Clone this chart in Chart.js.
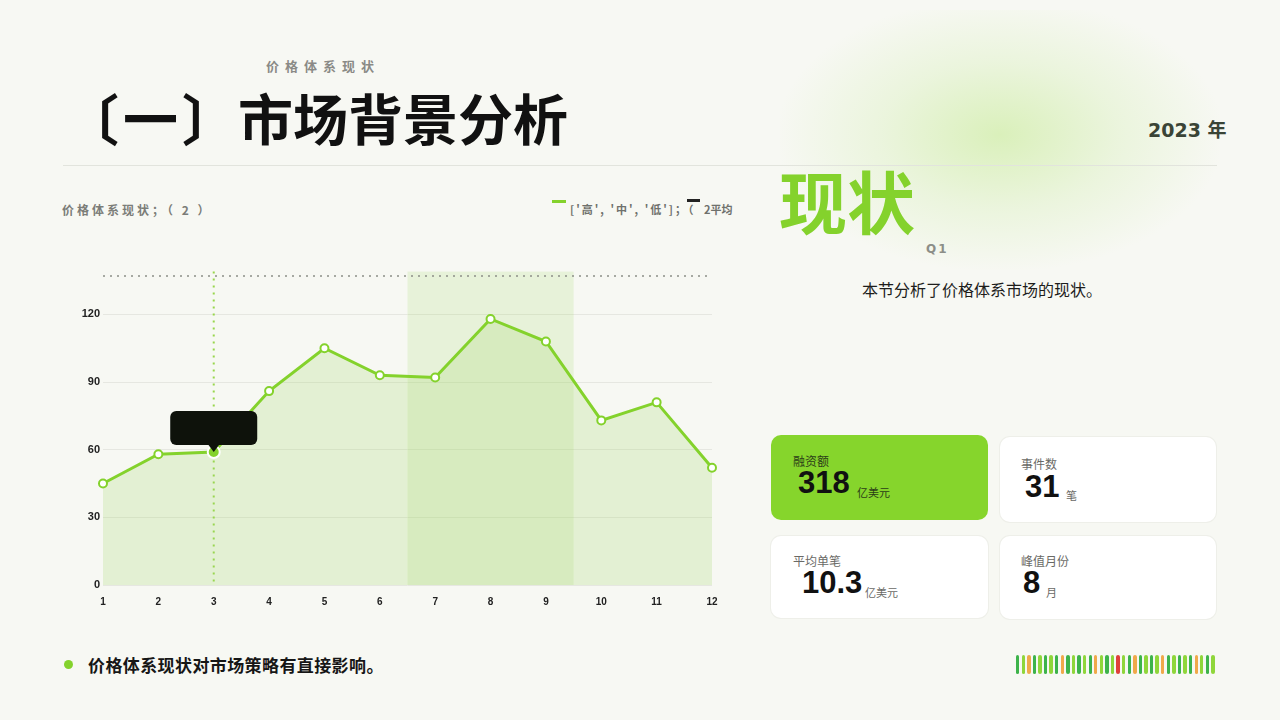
<!DOCTYPE html>
<html lang="zh">
<head>
<meta charset="utf-8">
<title>市场背景分析</title>
<script src="https://cdn.jsdelivr.net/npm/chart.js@4.4.1/dist/chart.umd.min.js"></script>
<style>
  html, body { margin: 0; padding: 0; }
  body {
    width: 1280px; height: 720px; position: relative; overflow: hidden;
    background: #f7f8f3;
    font-family: "Noto Sans CJK SC", "Noto Sans", sans-serif;
    color: #111;
  }
  .abs { position: absolute; }
  .blob {
    left: 780px; top: 10px; width: 440px; height: 260px;
    background: radial-gradient(ellipse at 50% 48%, rgba(204,236,160,0.68) 0%, rgba(218,240,190,0.42) 38%, rgba(247,248,243,0) 72%);
  }
  .kicker { left: 266px; top: 56px; font-size: 13px; font-weight: 700; color: #8a8a86; letter-spacing: 6px; }
  .title { top: 76px; font-size: 55px; font-weight: 700; color: #111; white-space: nowrap; }
  .year { left: 1148px; top: 115px; font-size: 19px; font-weight: 700; color: #3a4436; font-family: "DejaVu Sans", "Noto Sans CJK SC", sans-serif; }
  .rule { left: 63px; top: 165px; width: 1154px; height: 1px; background: #e2e4dd; }
  .ctitle { left: 62px; top: 201px; font-size: 12px; font-weight: 700; color: #7b7d78; letter-spacing: 3px; }
  .leg { top: 201px; font-size: 11px; font-weight: 700; color: #6f716c; letter-spacing: 2px; white-space: nowrap; }
  .dash { height: 3px; }
  .big { left: 779px; top: 150px; font-size: 68px; font-weight: 700; color: #84d22c; }
  .q1 { left: 926px; top: 242px; font-size: 12px; font-weight: 700; color: #8c8e88; letter-spacing: 2px; font-family: "DejaVu Sans", sans-serif; }
  .desc { left: 862px; top: 277px; font-size: 16px; color: #1d1d1b; }
  .card { border-radius: 10px; background: #ffffff; box-shadow: 0 0 0 1px #eeefe9; }
  .card.green { background: #86d52c; box-shadow: none; }
  .lab { position: absolute; font-size: 12px; color: #6a6a66; }
  .green .lab { color: #2c3d18; }
  .val { position: absolute; font-size: 31px; font-weight: 700; color: #111; font-family: "Liberation Sans", Arial, sans-serif; }
  .unit { position: absolute; font-size: 11px; color: #6a6a66; }
  .green .unit { color: #2c3d18; }
  #wrap { left: 60px; top: 262px; width: 680px; height: 353px; }
  .dot { left: 64px; top: 660px; width: 9px; height: 9px; border-radius: 50%; background: #84d22c; }
  .note { left: 88px; top: 652px; font-size: 17px; font-weight: 700; color: #161616; letter-spacing: 0.4px; }
  .bars { left: 1016px; top: 655px; height: 19px; display: flex; gap: 2.2px; }
  .bars span { width: 3.4px; height: 19px; border-radius: 2px; display: block; }
</style>
</head>
<body>
<div class="abs blob"></div>
<div class="abs kicker">价格体系现状</div>
<div class="abs title" style="left:64px;letter-spacing:4px;">〔一〕</div>
<div class="abs title" style="left:238px;letter-spacing:0;">市场背景分析</div>
<div class="abs year">2023 年</div>
<div class="abs rule"></div>

<div class="abs ctitle">价格体系现状；（ 2 ）</div>
<div class="abs dash" style="left:552px;top:200px;width:14px;background:#84d22c;"></div>
<div class="abs leg" style="left:570px;">['高', '中', '低']；（</div>
<div class="abs dash" style="left:687px;top:199px;width:13px;background:#222;"></div>
<div class="abs leg" style="left:704px;letter-spacing:0;">2平均</div>

<div class="abs" id="wrap"><canvas id="chart"></canvas></div>

<div class="abs big">现状</div>
<div class="abs q1">Q1</div>
<div class="abs desc">本节分析了价格体系市场的现状。</div>

<div class="abs card green" style="left:771px;top:435px;width:217px;height:85px;">
  <div class="lab" style="left:22px;top:17px;">融资额</div>
  <div class="val" style="left:27px;top:30px;">318</div>
  <div class="unit" style="left:86px;top:49px;">亿美元</div>
</div>
<div class="abs card" style="left:1000px;top:437px;width:216px;height:85px;">
  <div class="lab" style="left:21px;top:18px;">事件数</div>
  <div class="val" style="left:25px;top:32px;">31</div>
  <div class="unit" style="left:66px;top:50px;">笔</div>
</div>
<div class="abs card" style="left:771px;top:536px;width:217px;height:82px;">
  <div class="lab" style="left:22px;top:16px;">平均单笔</div>
  <div class="val" style="left:31px;top:29px;">10.3</div>
  <div class="unit" style="left:94px;top:48px;">亿美元</div>
</div>
<div class="abs card" style="left:1000px;top:536px;width:216px;height:83px;">
  <div class="lab" style="left:21px;top:16px;">峰值月份</div>
  <div class="val" style="left:23px;top:29px;">8</div>
  <div class="unit" style="left:46px;top:48px;">月</div>
</div>

<div class="abs dot"></div>
<div class="abs note">价格体系现状对市场策略有直接影响。</div>
<div class="abs bars" id="bars"></div>

<script>
// chart data
const months = ['1', '2', '3', '4', '5', '6', '7', '8', '9', '10', '11', '12'];
const values = [45, 58, 59, 86, 105, 93, 92, 118, 108, 73, 81, 52];
const avgLine = [137, 137, 137, 137, 137, 137, 137, 137, 137, 137, 137, 137];
const yTicks = [0, 30, 60, 90, 120];
const yMax = 139;
const bandFrom = '7', bandTo = '9';   // shaded months
const markMonth = '3';                // highlighted point

const GREEN = '#84d22c';

// decorative strip colours
const barColors = ['d','l','o','d','l','d','l','d','o','d','l','d','l','d','o','l','d','l','r','l','d','o','d','l','d','l','o','d','l','d','l','d','o','l','d','l'];
const palette = { d: '#3db34a', l: '#8fd63a', o: '#f0a94a', r: '#e0403a' };
const barsEl = document.getElementById('bars');
barColors.forEach(c => {
  const s = document.createElement('span');
  s.style.background = palette[c];
  barsEl.appendChild(s);
});

const bandPlugin = {
  id: 'band',
  beforeDatasetsDraw(chart) {
    const { ctx, chartArea, scales: { x } } = chart;
    const step = x.getPixelForValue(1) - x.getPixelForValue(0);
    const x0 = x.getPixelForValue(months.indexOf(bandFrom)) - step / 2;
    const x1 = x.getPixelForValue(months.indexOf(bandTo)) + step / 2;
    ctx.save();
    ctx.fillStyle = 'rgba(150, 212, 80, 0.16)';
    ctx.fillRect(x0, chartArea.top, x1 - x0, chartArea.bottom - chartArea.top);
    // vertical marker
    const mx = x.getPixelForValue(months.indexOf(markMonth));
    ctx.strokeStyle = '#98d64c';
    ctx.lineWidth = 2;
    ctx.setLineDash([2, 5]);
    ctx.beginPath();
    ctx.moveTo(mx, chartArea.top);
    ctx.lineTo(mx, chartArea.bottom);
    ctx.stroke();
    ctx.restore();
  }
};

const tipPlugin = {
  id: 'tipbox',
  afterDraw(chart) {
    const pt = chart.getDatasetMeta(0).data[months.indexOf(markMonth)];
    if (!pt) return;
    const { ctx } = chart;
    const w = 87, h = 34, r = 6, caret = 7;
    const bx = pt.x - w / 2, by = pt.y - caret - h;
    ctx.save();
    ctx.fillStyle = '#0e120b';
    ctx.beginPath();
    ctx.roundRect(bx, by, w, h, r);
    ctx.fill();
    ctx.beginPath();
    ctx.moveTo(pt.x - 6, by + h - 1);
    ctx.lineTo(pt.x + 6, by + h - 1);
    ctx.lineTo(pt.x, by + h + caret);
    ctx.closePath();
    ctx.fill();
    ctx.restore();
  }
};

const markIdx = months.indexOf(markMonth);

new Chart(document.getElementById('chart'), {
  type: 'line',
  data: {
    labels: months,
    datasets: [{
      label: "['高', '中', '低']",
      data: values,
      borderColor: GREEN,
      borderWidth: 3,
      backgroundColor: 'rgba(160, 215, 100, 0.22)',
      fill: 'origin',
      tension: 0,
      pointRadius: values.map((v, i) => i === markIdx ? 6 : 4),
      pointBackgroundColor: values.map((v, i) => i === markIdx ? GREEN : '#ffffff'),
      pointBorderColor: values.map((v, i) => i === markIdx ? '#ffffff' : GREEN),
      pointBorderWidth: 2,
      order: 1
    }, {
      label: '平均',
      data: avgLine,
      borderColor: '#8c8e88',
      borderWidth: 1.5,
      borderDash: [2, 5],
      pointRadius: 0,
      fill: false,
      order: 2
    }]
  },
  options: {
    responsive: true,
    maintainAspectRatio: false,
    animation: false,
    layout: { padding: { top: 2, right: 28, left: 0, bottom: 0 } },
    plugins: {
      legend: { display: false },
      tooltip: { enabled: false }
    },
    scales: {
      x: {
        offset: false,
        grid: { display: false },
        border: { display: false },
        ticks: { color: '#222', font: { size: 10, weight: 'bold', family: 'Liberation Sans' }, padding: 3, maxRotation: 0 },
        afterFit(s) { s.height = 30; }
      },
      y: {
        min: 0,
        max: yMax,
        grid: { color: '#e6e7e1', drawTicks: false, lineWidth: 1 },
        border: { display: false },
        ticks: { color: '#222', font: { size: 11, weight: 'bold', family: 'Liberation Sans' }, padding: 3 },
        afterBuildTicks(s) { s.ticks = yTicks.map(v => ({ value: v })); },
        afterFit(s) { s.width = 43; }
      }
    }
  },
  plugins: [bandPlugin, tipPlugin]
});
</script>
</body>
</html>
